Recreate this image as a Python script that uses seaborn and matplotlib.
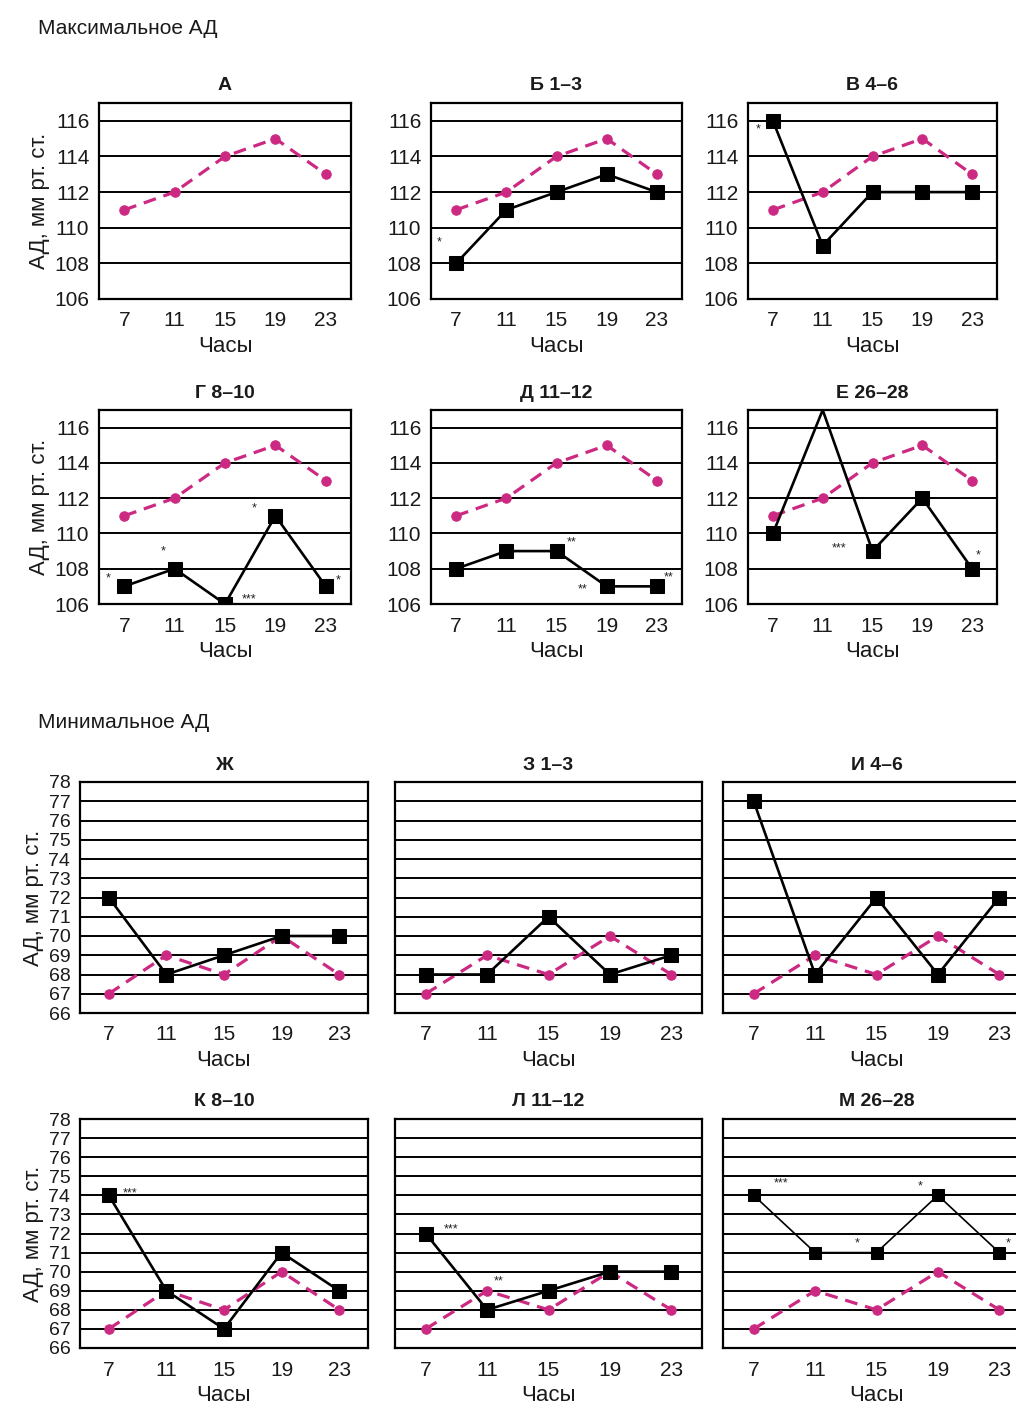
import matplotlib
matplotlib.use("Agg")
import matplotlib.pyplot as plt
import seaborn as sns
import numpy as np
import pandas as pd

# Hours of measurement
hours = ["7", "11", "15", "19", "23"]

# Maximal (systolic) pressure, mm Hg
max_control = [111, 112, 114, 115, 113]
max_b = [108, 111, 112, 113, 112]
max_v = [116, 109, 112, 112, 112]
max_g = [107, 108, 106, 111, 107]
max_d = [108, 109, 109, 107, 107]
max_e = [110, 117, 109, 112, 108]

# Minimal (diastolic) pressure, mm Hg
min_control = [67, 69, 68, 70, 68]
min_zh = [72, 68, 69, 70, 70]
min_z = [68, 68, 71, 68, 69]
min_i = [77, 68, 72, 68, 72]
min_k = [74, 69, 67, 71, 69]
min_l = [72, 68, 69, 70, 70]
min_m = [74, 71, 71, 74, 71]

top_titles = ["А", "Б 1–3", "В 4–6", "Г 8–10", "Д 11–12", "Е 26–28"]
bottom_titles = ["Ж", "З 1–3", "И 4–6", "К 8–10", "Л 11–12", "М 26–28"]

# Significance marks: (point index, text, dx px, dy px)
marks_b = [(0, "*", -17, 21)]
marks_v = [(0, "*", -15, -9)]
marks_g = [(0, "*", -16, 8), (1, "*", -11, 17), (2, "***", 24, 5),
           (3, "*", -21, 7), (4, "*", 12, 6)]
marks_d = [(2, "**", 15, 9), (3, "**", -24, -3), (4, "**", 12, 9)]
marks_e = [(2, "***", -33, 3), (4, "*", 6, 13)]
marks_k = [(0, "***", 21, 2)]
marks_l = [(0, "***", 25, 4), (1, "**", 12, 28)]
marks_m = [(0, "***", 27, 12), (2, "*", -19, 9), (3, "*", -18, 9), (4, "*", 9, 9)]

sns.set_style("white")
plt.rcParams["font.family"] = ["Liberation Sans", "DejaVu Sans"]
plt.rcParams["text.color"] = "#1a1a1a"
plt.rcParams["axes.labelcolor"] = "#1a1a1a"
plt.rcParams["xtick.color"] = "#1a1a1a"
plt.rcParams["ytick.color"] = "#1a1a1a"

W, H = 1016, 1409
fig = plt.figure(figsize=(W / 100, H / 100), dpi=100)
fig.patch.set_facecolor("white")

PINK = "#cc2a82"


def add_ax(x0, y0, x1, y1):
    return fig.add_axes([x0 / W, 1 - y1 / H, (x1 - x0) / W, (y1 - y0) / H])


def draw_panel(ax, title, control, series, marks, ylim, yticks, show_ylabels,
               ylabel, ytick_size, small=False):
    x = np.arange(len(hours))
    ax.set_xlim(-0.5, len(hours) - 0.5)
    ax.set_ylim(*ylim)
    for yv in yticks:
        ax.axhline(yv, color="black", lw=1.4, zorder=1)
    df_c = pd.DataFrame({"x": x, "y": control})
    sns.lineplot(data=df_c, x="x", y="y", ax=ax, color=PINK, lw=2.3,
                 marker="o", markersize=6.8, markeredgecolor=PINK,
                 dashes=False, linestyle=(0, (4, 2.5)), zorder=3)
    if series is not None:
        df_s = pd.DataFrame({"x": x, "y": series})
        shown = [i for i, v in enumerate(series) if v < ylim[1]]
        sns.lineplot(data=df_s, x="x", y="y", ax=ax, color="black",
                     lw=1.2 if small else 1.9, marker="s",
                     markersize=8 if small else 9.5, markevery=shown,
                     markeredgecolor="black", zorder=4)
        for i, txt, dx, dy in marks:
            ax.annotate(txt, (x[i], series[i]), xytext=(dx, dy),
                        textcoords="offset pixels", ha="center", va="center",
                        fontsize=9, color="#222222", annotation_clip=False)
    ax.set_title(title, fontsize=14, fontweight="bold", pad=9)
    ax.set_xticks(x)
    ax.set_xticklabels(hours)
    ax.set_xticks(np.arange(-0.5, len(hours)), minor=True)
    ax.tick_params(axis="x", which="major", length=0, labelsize=15, pad=9)
    ax.tick_params(axis="x", which="minor", length=5, width=1.3,
                   direction="out", color="black")
    ax.set_yticks(yticks)
    ax.tick_params(axis="y", length=5, width=1.3, direction="out",
                   color="black", labelsize=ytick_size, pad=2)
    if not show_ylabels:
        ax.set_yticklabels([])
    ax.set_xlabel("Часы", fontsize=16, labelpad=4)
    ax.set_ylabel(ylabel, fontsize=16, labelpad=3)
    for s in ax.spines.values():
        s.set_color("black")
        s.set_linewidth(1.6)
    ax.set_facecolor("white")


# Maximal pressure block
top_cols = [(99, 351), (431, 682), (748, 997)]
top_rows = [(103, 299), (410, 604)]
max_series = [None, max_b, max_v, max_g, max_d, max_e]
max_marks = [[], marks_b, marks_v, marks_g, marks_d, marks_e]
for k in range(6):
    r, c = divmod(k, 3)
    ax = add_ax(top_cols[c][0], top_rows[r][0], top_cols[c][1], top_rows[r][1])
    draw_panel(ax, top_titles[k], max_control, max_series[k], max_marks[k],
               (106, 117), list(range(106, 117, 2)), True,
               "АД, мм рт. ст." if c == 0 else "", 15)

# Minimal pressure block
bot_cols = [(80, 368), (395, 702), (723, 1030)]
bot_rows = [(782, 1013), (1119, 1348)]
min_series = [min_zh, min_z, min_i, min_k, min_l, min_m]
min_marks = [[], [], [], marks_k, marks_l, marks_m]
for k in range(6):
    r, c = divmod(k, 3)
    ax = add_ax(bot_cols[c][0], bot_rows[r][0], bot_cols[c][1], bot_rows[r][1])
    draw_panel(ax, bottom_titles[k], min_control, min_series[k], min_marks[k],
               (66, 78), list(range(66, 79)), c == 0,
               "АД, мм рт. ст." if c == 0 else "", 14, small=(k == 5))

fig.text(38 / W, 1 - 28 / H, "Максимальное АД", fontsize=15, ha="left",
         va="center")
fig.text(38 / W, 1 - 722 / H, "Минимальное АД", fontsize=15, ha="left",
         va="center")

fig.savefig("out.png", dpi=100, facecolor="white")
